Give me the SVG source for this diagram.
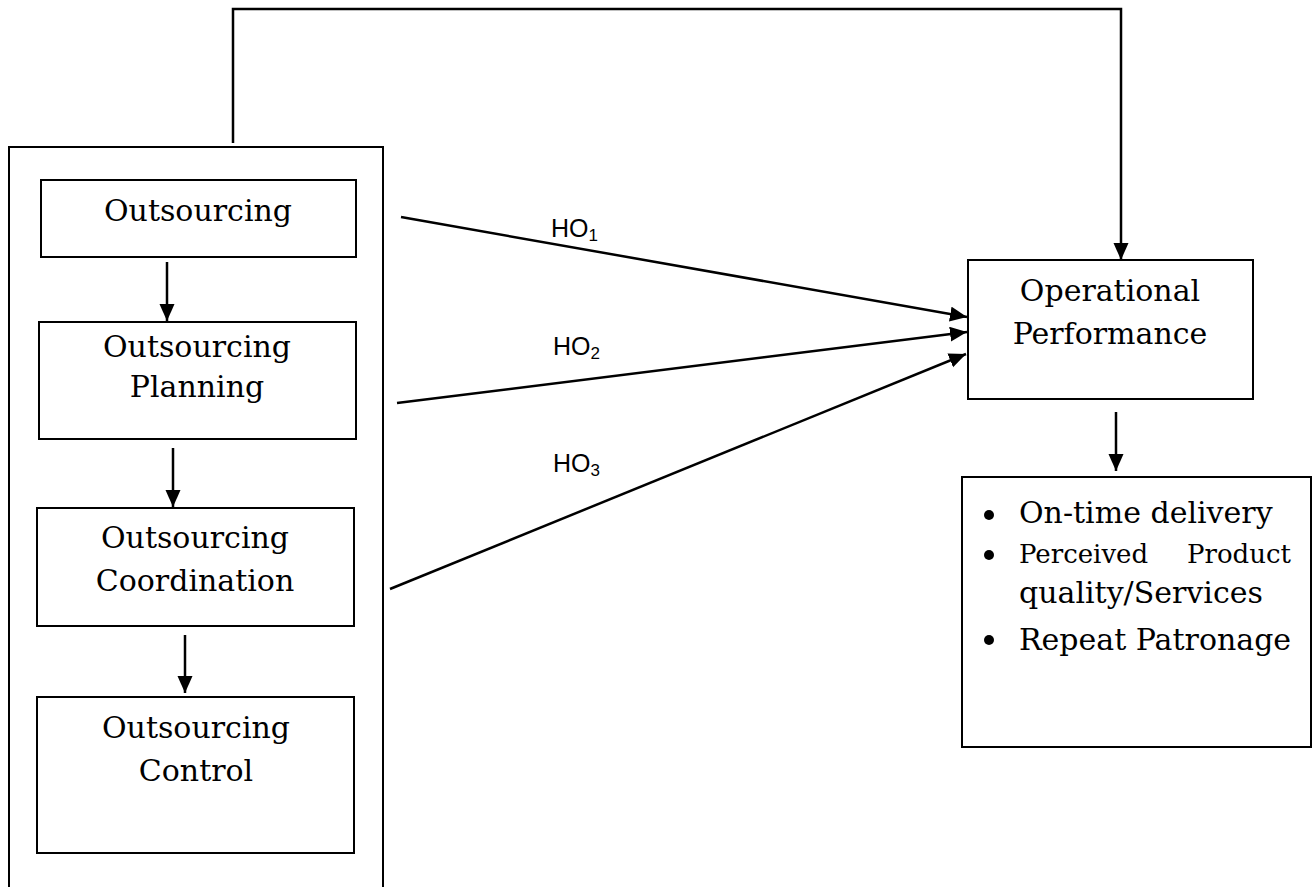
<svg xmlns="http://www.w3.org/2000/svg" width="1312" height="887" viewBox="0 0 1312 887">
<style>
.box{fill:#fff;stroke:#000;stroke-width:2}
.t{font-family:"DejaVu Serif","Liberation Serif",serif;font-size:30px;fill:#000}
.s{font-family:"Liberation Sans",Arial,sans-serif;font-size:25px;fill:#000}
.sub{font-size:17px}
.c{fill:none;stroke:#000;stroke-width:2.5}
</style>
<defs>
<marker id="ah" markerUnits="userSpaceOnUse" markerWidth="19" markerHeight="16" refX="17" refY="7.5" orient="auto">
<path d="M0,0 L17,7.5 L0,15 Z" fill="#000"/>
</marker>
</defs>
<rect width="1312" height="887" fill="#fff"/>
<g id="outer"><rect class="box" x="9" y="147" width="374" height="750"/></g>
<g id="n1"><rect class="box" x="41" y="180" width="315" height="77"/>
<text class="t" x="198" y="221" text-anchor="middle">Outsourcing</text></g>
<g id="n2"><rect class="box" x="39" y="322" width="317" height="117"/>
<text class="t" x="197" y="357" text-anchor="middle">Outsourcing</text>
<text class="t" x="197" y="397" text-anchor="middle">Planning</text></g>
<g id="n3"><rect class="box" x="37" y="508" width="317" height="118"/>
<text class="t" x="195" y="548" text-anchor="middle">Outsourcing</text>
<text class="t" x="195" y="591" text-anchor="middle">Coordination</text></g>
<g id="n4"><rect class="box" x="37" y="697" width="317" height="156"/>
<text class="t" x="196" y="738" text-anchor="middle">Outsourcing</text>
<text class="t" x="196" y="781" text-anchor="middle">Control</text></g>
<g id="op"><rect class="box" x="968" y="260" width="285" height="139"/>
<text class="t" x="1110" y="301" text-anchor="middle">Operational</text>
<text class="t" x="1110" y="344" text-anchor="middle">Performance</text></g>
<g id="out"><rect class="box" x="962" y="477" width="349" height="270"/>
<circle cx="989" cy="515" r="5"/>
<circle cx="989" cy="555" r="5"/>
<circle cx="989" cy="640" r="5"/>
<text class="t" x="1019" y="523">On-time delivery</text>
<text class="t" x="1019" y="563" style="font-size:26px">Perceived</text>
<text class="t" x="1291" y="563" text-anchor="end" style="font-size:26px">Product</text>
<text class="t" x="1019" y="603">quality/Services</text>
<text class="t" x="1019" y="650">Repeat Patronage</text></g>
<g id="connectors">
<path class="c" d="M233,143 V9 H1121 V260" marker-end="url(#ah)"/>
<line class="c" x1="167" y1="262" x2="167" y2="321" marker-end="url(#ah)"/>
<line class="c" x1="173" y1="448" x2="173" y2="507" marker-end="url(#ah)"/>
<line class="c" x1="185" y1="635" x2="185" y2="693" marker-end="url(#ah)"/>
<line class="c" x1="1116" y1="412" x2="1116" y2="471" marker-end="url(#ah)"/>
<line class="c" x1="401" y1="217" x2="967" y2="317" marker-end="url(#ah)"/>
<line class="c" x1="397" y1="403" x2="967" y2="332" marker-end="url(#ah)"/>
<line class="c" x1="390" y1="589" x2="966" y2="354" marker-end="url(#ah)"/>
<text class="s" x="551" y="237">HO<tspan class="sub" dy="4">1</tspan></text>
<text class="s" x="553" y="355">HO<tspan class="sub" dy="4">2</tspan></text>
<text class="s" x="553" y="472">HO<tspan class="sub" dy="4">3</tspan></text>
</g>
</svg>
